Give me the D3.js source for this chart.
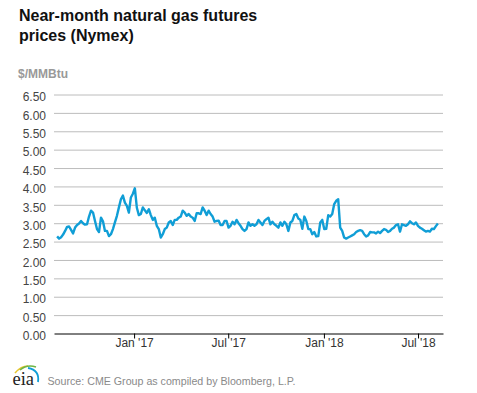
<!DOCTYPE html>
<html>
<head>
<meta charset="utf-8">
<script src="https://cdn.jsdelivr.net/npm/d3@7"></script>
<style>
  html, body { margin: 0; padding: 0; background: #fff; }
  svg { display: block; font-family: "Liberation Sans", Arial, sans-serif; }
</style>
</head>
<body>
<div id="chart"></div>
<script>
const titleLines = ['Near-month natural gas futures', 'prices (Nymex)']
const unitLabel = '$/MMBtu'
const sourceLabel = 'Source: CME Group as compiled by Bloomberg, L.P.'
const yTicks = [0, 0.5, 1, 1.5, 2, 2.5, 3, 3.5, 4, 4.5, 5, 5.5, 6, 6.5]
const xTicks = ['2017-01-01', '2017-07-01', '2018-01-01', '2018-07-01']
const firstDate = '2016-08-06'
const hoursPerReading = 92

// price, one reading about every 2 pixels
const prices = [
  2.64, 2.58, 2.62, 2.69, 2.79, 2.90, 2.91, 2.82, 2.72, 2.88, 2.95, 2.99, 3.06, 3.00, 2.96, 2.97,
  3.18, 3.34, 3.29, 3.06, 2.84, 2.76, 3.15, 3.05, 2.79, 2.79, 2.65, 2.70, 2.84, 3.02, 3.20, 3.43,
  3.65, 3.75, 3.56, 3.47, 3.29, 3.70, 3.80, 3.95, 3.42, 3.22, 3.25, 3.43, 3.35, 3.28, 3.38, 3.22,
  3.09, 3.15, 2.93, 2.84, 2.61, 2.70, 2.84, 2.88, 3.02, 3.06, 2.95, 3.09, 3.09, 3.15, 3.18, 3.34,
  3.29, 3.20, 3.25, 3.18, 3.15, 3.06, 3.27, 3.27, 3.25, 3.43, 3.34, 3.22, 3.34, 3.25, 3.18, 3.04,
  3.06, 3.07, 2.95, 2.95, 3.06, 3.06, 2.88, 2.93, 3.04, 2.97, 3.09, 3.00, 2.93, 2.84, 2.79,
  2.84, 3.02, 2.93, 2.97, 2.93, 2.97, 3.09, 3.02, 2.95, 3.06, 3.11, 3.15, 2.97, 3.04, 2.97, 2.93,
  2.88, 3.02, 2.93, 3.04, 2.97, 2.79, 3.02, 3.06, 3.22, 3.25, 3.13, 3.09, 2.85, 3.18, 3.06, 2.84,
  2.84, 2.70, 2.76, 2.64, 2.65, 3.02, 3.09, 2.84, 2.85, 3.22, 3.18, 3.25, 3.52, 3.61, 3.65, 2.88,
  2.79, 2.61, 2.58, 2.61, 2.64, 2.67, 2.70, 2.76, 2.79, 2.81, 2.79, 2.70, 2.64, 2.67, 2.76, 2.75,
  2.75, 2.72, 2.77, 2.73, 2.79, 2.84, 2.82, 2.76, 2.79, 2.85, 2.88, 2.95, 2.97, 2.77, 2.97,
  2.95, 2.93, 2.97, 3.05, 3.00, 2.97, 3.02, 2.93, 2.88, 2.85, 2.81, 2.77, 2.79, 2.77, 2.85, 2.84,
  2.92, 2.99
]

const width = 477
const height = 393
const marginTop = 94.5
const marginRight = 34
const marginBottom = 59.5
const marginLeft = 54

const parseDate = d3.utcParse('%Y-%m-%d')
const formatTick = d3.utcFormat("%b '%y")
const formatPrice = d3.format('.2f')

const series = prices.map((price, i) => ({
  date: d3.utcHour.offset(parseDate(firstDate), i * hoursPerReading),
  price
}))

const svg = d3.select('#chart')
  .append('svg')
  .attr('width', width)
  .attr('height', height)
  .attr('viewBox', `0 0 ${width} ${height}`)

const x = d3.scaleUtc()
  .domain([parseDate('2016-07-31'), parseDate('2018-08-18')])
  .range([marginLeft, width - marginRight])

const y = d3.scaleLinear()
  .domain([0, 6.5])
  .range([height - marginBottom, marginTop])

svg.append('g')
  .selectAll('text')
  .data(titleLines)
  .enter()
  .append('text')
  .attr('x', 19)
  .attr('y', (d, i) => 21 + i * 20)
  .attr('font-size', 16)
  .attr('font-weight', 'bold')
  .attr('fill', '#111')
  .text(d => d)

svg.append('text')
  .attr('x', 18)
  .attr('y', 77.5)
  .attr('font-size', 12)
  .attr('font-weight', 'bold')
  .attr('fill', '#999')
  .text(unitLabel)

// horizontal grid and value labels
const yAxis = svg.append('g')
  .attr('transform', `translate(${marginLeft},0)`)
  .call(d3.axisLeft(y)
    .tickValues(yTicks)
    .tickFormat(formatPrice)
    .tickSize(-(width - marginLeft - marginRight))
    .tickPadding(8))
yAxis.select('.domain').remove()
yAxis.selectAll('.tick line')
  .attr('stroke', d => d === 0 ? 'none' : '#bcbcbc')
  .attr('stroke-width', 1)
yAxis.selectAll('.tick text')
  .attr('font-family', '"Liberation Sans", Arial, sans-serif')
  .attr('font-size', 12)
  .attr('dy', '0.52em')
  .attr('fill', '#444')

const line = d3.line()
  .x(d => x(d.date))
  .y(d => y(d.price))

svg.append('path')
  .datum(series)
  .attr('fill', 'none')
  .attr('stroke', '#109ed6')
  .attr('stroke-width', 2.4)
  .attr('stroke-linejoin', 'round')
  .attr('d', line)

const xAxis = svg.append('g')
  .attr('transform', `translate(0,${height - marginBottom})`)
  .call(d3.axisBottom(x)
    .tickValues(xTicks.map(parseDate))
    .tickFormat(formatTick)
    .tickSize(5)
    .tickSizeOuter(0)
    .tickPadding(0))
xAxis.select('.domain').attr('stroke', '#000').attr('stroke-width', 1)
xAxis.selectAll('.tick line').attr('stroke', '#000')
xAxis.selectAll('.tick text')
  .attr('font-family', '"Liberation Sans", Arial, sans-serif')
  .attr('font-size', 12)
  .attr('fill', '#333')

// eia logo
const logo = svg.append('g')
logo.append('path')
  .attr('d', 'M15 373 Q21 366 28 366')
  .attr('fill', 'none')
  .attr('stroke', '#e8c62e')
  .attr('stroke-width', 1.6)
logo.append('path')
  .attr('d', 'M20 370 Q27 364 36 367')
  .attr('fill', 'none')
  .attr('stroke', '#6fb544')
  .attr('stroke-width', 1.6)
logo.append('path')
  .attr('d', 'M28 368 Q40 370 38 382')
  .attr('fill', 'none')
  .attr('stroke', '#109ed6')
  .attr('stroke-width', 1.8)
logo.append('text')
  .attr('x', 12.5)
  .attr('y', 385)
  .attr('font-family', '"Liberation Serif", serif')
  .attr('font-size', 18.5)
  .attr('fill', '#222')
  .text('eia')

svg.append('text')
  .attr('x', 47.5)
  .attr('y', 385)
  .attr('font-size', 10.67)
  .attr('fill', '#8a8a8a')
  .text(sourceLabel)
</script>
</body>
</html>
